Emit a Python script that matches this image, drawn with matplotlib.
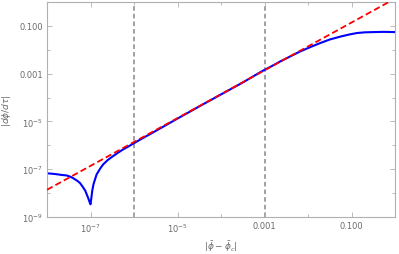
import numpy as np
import matplotlib
matplotlib.use('Agg')
import matplotlib.pyplot as plt

# blue curve (log10 values)
blue_logx = [-8.0, -7.82, -7.66, -7.55, -7.47, -7.41, -7.36, -7.3, -7.24, -7.17, -7.12, -7.09,
             -7.05, -7.02, -7.0,
             -6.98, -6.96, -6.93, -6.86, -6.78, -6.71, -6.6, -6.48, -6.36, -6.25, -6.13, -6.02,
             -5.8, -5.63, -5.3, -5.0, -4.5, -4.0, -3.5, -3.06, -2.85, -2.64, -2.4, -2.18, -1.95,
             -1.72, -1.5, -1.26, -1.05, -0.88, -0.7, -0.5, -0.25, 0.0]
blue_logy = [-7.17, -7.20, -7.24, -7.26, -7.31, -7.36, -7.42, -7.49, -7.58, -7.76, -7.9, -8.04,
             -8.22, -8.38, -8.47,
             -8.2, -7.9, -7.62, -7.22, -6.98, -6.80, -6.61, -6.45, -6.30, -6.17, -6.05, -5.93,
             -5.70, -5.53, -5.19, -4.88, -4.37, -3.87, -3.37, -2.90, -2.70, -2.49, -2.27, -2.07, -1.89,
             -1.72, -1.57, -1.45, -1.36, -1.30, -1.27, -1.26, -1.25, -1.26]

# red asymptote (slope 1 in log-log)
red_logx = [-8.0, 0.0]
red_logy = [-7.86, 0.14]

vlines_x = [1e-6, 1e-3]

x_ticks = [1e-7, 1e-5, 1e-3, 1e-1]
x_labels = [r'$10^{-7}$', r'$10^{-5}$', '0.001', '0.100']
y_ticks = [1e-9, 1e-7, 1e-5, 1e-3, 1e-1]
y_labels = [r'$10^{-9}$', r'$10^{-7}$', r'$10^{-5}$', '0.001', '0.100']

grey = '#6a6a6a'
fig = plt.figure(figsize=(3.99, 2.55), dpi=100)
ax = fig.add_axes([47 / 399, 1 - 218 / 255, 348 / 399, 215 / 255])

bx = 10 ** np.array(blue_logx)
by = 10 ** np.array(blue_logy)
rx = 10 ** np.array(red_logx)
ry = 10 ** np.array(red_logy)

for v in vlines_x:
    ax.axvline(v, color='#888888', lw=1.1, ls=(0, (3, 2)), zorder=1)
ax.plot(bx, by, color='#0000ff', lw=1.5, zorder=2, solid_joinstyle='round')
ax.plot(rx, ry, color='#ff0000', lw=1.3, ls=(0, (3.5, 1.8)), zorder=3)

ax.set_xscale('log')
ax.set_yscale('log')
ax.set_xlim(1e-8, 1)
ax.set_ylim(1e-9, 1)

ax.set_xticks([10.0 ** k for k in range(-8, 1)], minor=True)
ax.set_yticks([10.0 ** k for k in range(-9, 1)], minor=True)
ax.xaxis.set_minor_formatter(matplotlib.ticker.NullFormatter())
ax.yaxis.set_minor_formatter(matplotlib.ticker.NullFormatter())
ax.set_xticks(x_ticks)
ax.set_xticklabels(x_labels)
ax.set_yticks(y_ticks)
ax.set_yticklabels(y_labels)

ax.tick_params(which='both', direction='in', top=True, right=True, colors='#b0b0b0',
               labelcolor=grey, labelsize=6, width=0.6)
ax.tick_params(which='major', length=3.5, pad=3)
ax.tick_params(which='minor', length=2)
for s in ax.spines.values():
    s.set_color('#b0b0b0')
    s.set_linewidth(0.8)

ax.set_xlabel(r'$|\bar{\phi}-\bar{\phi}_c|$', color=grey, fontsize=6.5)
ax.xaxis.set_label_coords(0.5, -0.10)
ax.set_ylabel(r'$|d\bar{\phi}/d\tau|$', color=grey, fontsize=6.5)
ax.yaxis.set_label_coords(-0.095, 0.5)

fig.savefig('out.png', dpi=100)
